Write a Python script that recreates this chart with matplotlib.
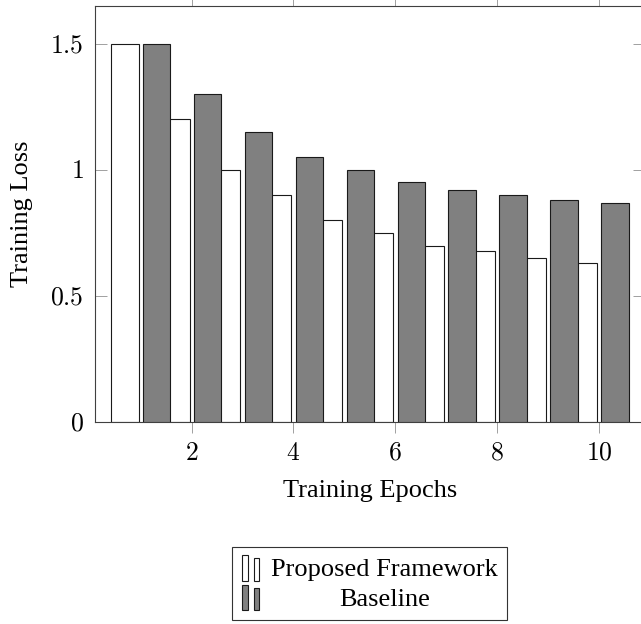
import matplotlib
matplotlib.use('Agg')
import numpy as np
from matplotlib import pyplot as plt
from matplotlib.patches import Rectangle
from matplotlib.legend_handler import HandlerBase

# training loss per epoch
epochs = [1, 2, 3, 4, 5, 6, 7, 8, 9, 10]
proposed = [1.5, 1.2, 1.0, 0.9, 0.8, 0.75, 0.7, 0.68, 0.65, 0.63]
baseline = [1.5, 1.3, 1.15, 1.05, 1.0, 0.95, 0.92, 0.9, 0.88, 0.87]
series_names = ['Proposed Framework', 'Baseline']
x_ticks = [2, 4, 6, 8, 10]
y_ticks = [0, 0.5, 1, 1.5]
y_tick_labels = ['0', '0.5', '1', '1.5']

plt.rcParams['font.family'] = 'Liberation Serif'
plt.rcParams['mathtext.fontset'] = 'cm'

EDGE = '#1a1a1a'
TICK = '#a0a0a0'


class TwoBars(HandlerBase):
    # pgfplots style ybar legend image: two small bars
    def create_artists(self, legend, orig_handle, xdescent, ydescent,
                       width, height, fontsize, trans):
        out = []
        for x0, bw, frac in [(0.0, 0.33, 1.0), (0.68, 0.27, 0.88)]:
            r = Rectangle((-xdescent + x0 * width, -ydescent - 0.15 * height),
                          bw * width, height * frac * 1.2,
                          facecolor=orig_handle.get_facecolor(),
                          edgecolor=orig_handle.get_edgecolor(),
                          linewidth=orig_handle.get_linewidth(),
                          transform=trans)
            out.append(r)
        return out


fig = plt.figure(figsize=(6.41, 6.24), dpi=100)
ax = fig.add_axes([0.1477, 0.3237, 0.8585, 0.6667])

x = np.array(epochs)
bw = 0.538
ax.bar(x - 0.31, proposed, width=bw, color='white', edgecolor=EDGE,
       linewidth=0.8, zorder=2)
ax.bar(x + 0.314, baseline, width=bw, color='#808080', edgecolor=EDGE,
       linewidth=0.8, zorder=3)

ax.set_xlim(0.094, 10.906)
ax.set_ylim(0, 1.65)

ax.set_xticks(x_ticks)
ax.set_xticklabels(['$%d$' % v for v in x_ticks])
ax.set_yticks(y_ticks)
ax.set_yticklabels(['$%s$' % s for s in y_tick_labels])

ax.tick_params(axis='x', direction='out', top=True, length=8, width=0.7,
               color=TICK, labelsize=18.5, pad=7)
ax.tick_params(axis='y', direction='in', right=True, length=8.6, width=0.7,
               color=TICK, labelsize=18.5, pad=8)
for s in ax.spines.values():
    s.set_color('#404040')
    s.set_linewidth(0.8)

ax.set_xlabel('Training Epochs', fontsize=19, labelpad=11)
ax.set_ylabel('Training Loss', fontsize=19, labelpad=12)

handles = [Rectangle((0, 0), 1, 1, facecolor='white', edgecolor=EDGE, linewidth=0.8),
           Rectangle((0, 0), 1, 1, facecolor='#808080', edgecolor=EDGE, linewidth=0.8)]
leg = ax.legend(handles, series_names, handler_map={Rectangle: TwoBars()},
                loc='upper center', bbox_to_anchor=(0.5, -0.30), fontsize=19,
                frameon=True, fancybox=False, edgecolor='#333333', framealpha=1,
                borderpad=0.36, handlelength=0.7, handleheight=0.85,
                handletextpad=0.4, labelspacing=0.2, borderaxespad=0)
leg.get_frame().set_linewidth(0.8)

# center legend labels in their column, like pgfplots does
fig.canvas.draw()
texts = leg.get_texts()
widths = [t.get_window_extent().width for t in texts]
for t, w in zip(texts, widths):
    t.set_x((max(widths) - w) / 2)

fig.savefig('out.png', dpi=100)
